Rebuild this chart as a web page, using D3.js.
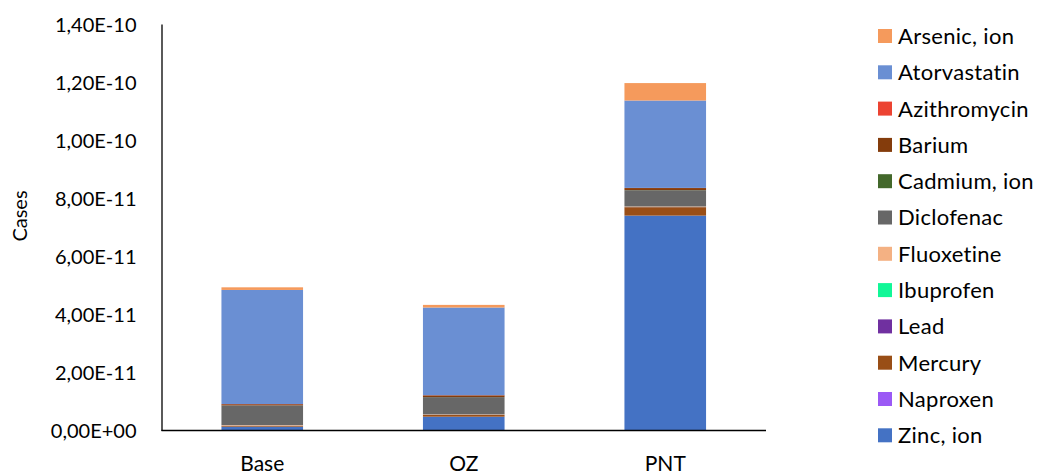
<!DOCTYPE html>
<html>
<head>
<meta charset="utf-8">
<script src="https://cdn.jsdelivr.net/npm/d3@7"></script>
<style>
  html, body { margin: 0; padding: 0; background: #fff; }
  svg { display: block; }
  text { font-family: Lato, "Open Sans", sans-serif; fill: #000; }
</style>
</head>
<body>
<svg id="chart" width="1040" height="473"></svg>
<script>
// Scenarios on the x axis
const categories = ["Base", "OZ", "PNT"];

// Substances, listed as in the legend (top of the stack first)
const substances = ["Arsenic, ion", "Atorvastatin", "Azithromycin", "Barium", "Cadmium, ion",
  "Diclofenac", "Fluoxetine", "Ibuprofen", "Lead", "Mercury", "Naproxen", "Zinc, ion"];

// Cases per substance and scenario (Base, OZ, PNT)
const arsenic      = [0.9e-12, 0.9e-12, 6.0e-12];
const atorvastatin = [39.3e-12, 30.2e-12, 30.1e-12];
const azithromycin = [0.05e-12, 0.05e-12, 0.05e-12];
const barium       = [0.4e-12, 0.6e-12, 0.7e-12];
const cadmium      = [0.02e-12, 0.02e-12, 0.05e-12];
const diclofenac   = [6.8e-12, 5.95e-12, 5.6e-12];
const fluoxetine   = [0.2e-12, 0.15e-12, 0.2e-12];
const ibuprofen    = [0.01e-12, 0.01e-12, 0.01e-12];
const lead         = [0.02e-12, 0.02e-12, 0.03e-12];
const mercury      = [0.3e-12, 0.6e-12, 2.9e-12];
const naproxen     = [0.01e-12, 0.01e-12, 0.01e-12];
const zinc         = [1.3e-12, 4.75e-12, 74.0e-12];

// Y axis tick values
const yTicks = [0, 2e-11, 4e-11, 6e-11, 8e-11, 1e-10, 1.2e-10, 1.4e-10];

const colors = ["#F59A5C", "#6A8FD3", "#EC4332", "#843C0C", "#43682B", "#676767",
  "#F4B183", "#11F797", "#7030A0", "#994E16", "#9B59F5", "#4472C4"];

const seriesValues = [arsenic, atorvastatin, azithromycin, barium, cadmium, diclofenac,
  fluoxetine, ibuprofen, lead, mercury, naproxen, zinc];

// Row table for d3.stack
const rows = categories.map((c, i) => {
  const r = { category: c };
  substances.forEach((s, k) => { r[s] = seriesValues[k][i]; });
  return r;
});

const svg = d3.select("#chart");
const plotLeft = 161.5, plotRight = 766, plotTop = 24, plotBottom = 430.5;

const x = d3.scaleBand().domain(categories).range([plotLeft, plotRight]).paddingInner(0.595).paddingOuter(0.2975);
const y = d3.scaleLinear().domain([0, 1.4e-10]).range([plotBottom, plotTop]);
const color = d3.scaleOrdinal().domain(substances).range(colors);

// Stack from the bottom: Zinc first, Arsenic last
const stackKeys = substances.slice().reverse();
const stacked = d3.stack().keys(stackKeys)(rows);

svg.append("g")
  .selectAll("g")
  .data(stacked)
  .join("g")
  .attr("fill", d => color(d.key))
  .selectAll("rect")
  .data(d => d)
  .join("rect")
  .attr("x", d => x(d.data.category))
  .attr("width", x.bandwidth())
  .attr("y", d => y(d[1]))
  .attr("height", d => Math.max(0, y(d[0]) - y(d[1])));

// Scientific format with comma decimal: 1,40E-10
function sci(v) {
  const [m, e] = v.toExponential(2).split("e");
  const exp = parseInt(e, 10);
  const sign = exp < 0 ? "-" : "+";
  return m.replace(".", ",") + "E" + sign + String(Math.abs(exp)).padStart(2, "0");
}

// Y axis
const yAxis = svg.append("g")
  .attr("transform", `translate(${plotLeft},0)`)
  .call(d3.axisLeft(y).tickValues(yTicks).tickFormat(sci).tickSize(0).tickPadding(25));
yAxis.select(".domain").attr("stroke", "#000").attr("stroke-width", 1.3);
yAxis.selectAll("text").style("font-size", "20px").style("font-family", "Lato, sans-serif").attr("dy", "0.36em");

// X axis
const xAxis = svg.append("g")
  .attr("transform", `translate(0,${plotBottom})`)
  .call(d3.axisBottom(x).tickSize(0).tickPadding(0));
xAxis.select(".domain").attr("stroke", "#000").attr("stroke-width", 1.5)
  .attr("d", `M${plotLeft},0H${plotRight}`);
xAxis.selectAll("text").style("font-size", "21px").style("font-family", "Lato, sans-serif")
  .attr("dy", null).attr("y", 40);

// Y axis title
svg.append("text")
  .attr("transform", "translate(27,216) rotate(-90)")
  .attr("text-anchor", "middle")
  .style("font-size", "20px")
  .text("Cases");

// Legend
const legend = svg.append("g");
const item = legend.selectAll("g")
  .data(substances)
  .join("g")
  .attr("transform", (d, i) => `translate(878,${36 + i * 36.3})`);
item.append("rect")
  .attr("x", 0).attr("y", -7).attr("width", 14).attr("height", 14)
  .attr("fill", d => color(d));
item.append("text")
  .attr("x", 20).attr("dy", "0.36em")
  .style("font-size", "22px")
  .style("letter-spacing", "0.3px")
  .text(d => d);
</script>
</body>
</html>
